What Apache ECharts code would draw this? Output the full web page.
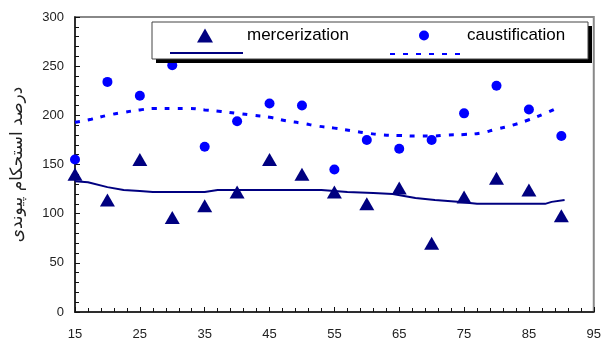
<!DOCTYPE html>
<html>
<head>
<meta charset="utf-8">
<script src="https://cdn.jsdelivr.net/npm/echarts@6/dist/echarts.min.js"></script>
<style>
  html, body { margin: 0; padding: 0; background: #fff; }
  #chart { width: 604px; height: 341px; }
</style>
</head>
<body>
<div id="chart"></div>
<script>
  // measured points
  const xValues = [15, 20, 25, 30, 35, 40, 45, 50, 55, 60, 65, 70, 75, 80, 85, 90];
  const mercerization = [140, 114, 155, 96, 108, 122, 155, 140, 122, 110, 126, 70, 117, 136, 124, 98];
  const caustification = [155, 234, 220, 251, 168, 194, 212, 210, 145, 175, 166, 175, 202, 230, 206, 179];

  // fitted curves
  const mercFitX = [15, 17, 20, 22.5, 25, 27, 35, 37, 53, 57, 61, 64, 67.5, 70.5, 74, 77, 87.5, 88.5, 90.5];
  const mercFitY = [133, 132, 127, 124, 123, 122, 122, 124, 124, 122, 121, 120, 116, 114, 112, 110, 110, 112, 114];
  const caustFitX = [15, 17.5, 20, 22.5, 25, 27.5, 30, 32.5, 35, 37.5, 40, 42.5, 45, 47.5, 50, 52.5, 55, 57.5, 60, 62.5, 65, 67.5, 70, 72.5, 75, 77.5, 80, 82.5, 85, 87.5, 89.5];
  const caustFitY = [193, 196, 200, 203, 205.5, 207, 207, 207, 205.5, 204, 202, 200, 198, 194.5, 192, 189, 187, 184.5, 182, 180, 179.5, 179, 179, 180, 180.5, 182, 186, 190, 195.5, 202, 208];

  const xTicks = { min: 15, max: 95, interval: 10 };
  const yTicks = { min: 0, max: 300, interval: 50 };

  const pairs = (xs, ys) => xs.map((x, i) => [x, ys[i]]);

  let myChart = echarts.init(document.getElementById('chart'));
  const font = "'Liberation Sans', Arial, sans-serif";

  myChart.setOption({
    animation: false,
    grid: {
      left: 75,
      right: 7,
      top: 17,
      bottom: 28,
      show: true,
      borderColor: '#888',
      borderWidth: 2,
      containLabel: false
    },
    xAxis: {
      type: 'value',
      min: xTicks.min,
      max: xTicks.max,
      interval: xTicks.interval,
      axisLine: { lineStyle: { color: '#111', width: 1.5 } },
      axisTick: { inside: true, length: 5, lineStyle: { color: '#111' } },
      minorTick: { show: true, splitNumber: 5, length: 4, lineStyle: { color: '#111' } },
      axisLabel: { color: '#222', fontSize: 13, fontFamily: font, margin: 16 },
      splitLine: { show: false }
    },
    yAxis: {
      type: 'value',
      min: yTicks.min,
      max: yTicks.max,
      interval: yTicks.interval,
      name: 'درصد استحکام پیوندی',
      nameLocation: 'middle',
      nameRotate: 90,
      nameGap: 49,
      nameTextStyle: { color: '#222', fontSize: 17, fontFamily: "'DejaVu Sans', sans-serif" },
      axisLine: { show: true, lineStyle: { color: '#111', width: 1.5 } },
      axisTick: { show: true, inside: true, length: 5, lineStyle: { color: '#111' } },
      minorTick: { show: true, splitNumber: 5, length: 4, lineStyle: { color: '#111' } },
      axisLabel: { color: '#222', fontSize: 13, fontFamily: font, margin: 11 },
      splitLine: { show: false }
    },
    graphic: [
      { type: 'rect', z: 10, shape: { x: 156, y: 26, width: 436, height: 37 }, style: { fill: '#000' } },
      { type: 'rect', z: 10, shape: { x: 152, y: 22, width: 436, height: 37 }, style: { fill: '#fff', stroke: '#444', lineWidth: 1 } }
    ],
    legend: [
      {
        data: ['mercerization'], left: 197, top: 27, padding: 0, z: 12,
        itemWidth: 16, itemHeight: 14,
        textStyle: { fontSize: 17, color: '#000', fontFamily: font, padding: [0, 0, 0, 29] }
      },
      {
        data: ['caustification'], left: 419, top: 27, padding: 0, z: 12,
        itemWidth: 10, itemHeight: 10,
        textStyle: { fontSize: 17, color: '#000', fontFamily: font, padding: [0, 0, 0, 33] }
      },
      {
        data: ['mercerization fit'], left: 169, top: 51, padding: 0, z: 12,
        itemWidth: 73, itemHeight: 4, formatter: () => '',
        itemStyle: { opacity: 0 },
        textStyle: { fontSize: 1 }
      },
      {
        data: ['caustification fit'], left: 389, top: 52, padding: 0, z: 12,
        itemWidth: 74, itemHeight: 4, formatter: () => '',
        itemStyle: { opacity: 0 },
        textStyle: { fontSize: 1 }
      }
    ],
    series: [
      {
        name: 'mercerization fit',
        type: 'line',
        symbol: 'none',
        data: pairs(mercFitX, mercFitY),
        lineStyle: { color: '#000080', width: 2 },
        itemStyle: { color: '#000080' }
      },
      {
        name: 'caustification fit',
        type: 'line',
        symbol: 'none',
        smooth: true,
        data: pairs(caustFitX, caustFitY),
        lineStyle: { color: '#0000ff', width: 3, type: [5, 8] },
        itemStyle: { color: '#0000ff' }
      },
      {
        name: 'mercerization',
        type: 'scatter',
        symbol: 'triangle',
        symbolSize: [15, 13],
        data: pairs(xValues, mercerization),
        itemStyle: { color: '#000080', opacity: 1 }
      },
      {
        name: 'caustification',
        type: 'scatter',
        symbol: 'circle',
        symbolSize: 10,
        data: pairs(xValues, caustification),
        itemStyle: { color: '#0000ff', opacity: 1 }
      }
    ]
  });
</script>
</body>
</html>
